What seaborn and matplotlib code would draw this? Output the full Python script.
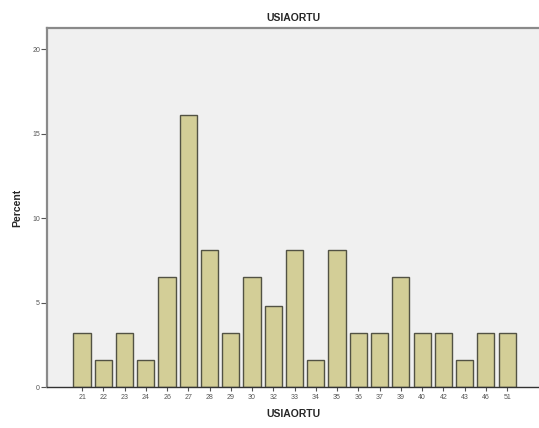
import pandas
import seaborn as sns
import matplotlib
matplotlib.use("Agg")
from matplotlib import pyplot as plt


# USIAORTU categories and their percent of cases (n = 62)
ages = ['21', '22', '23', '24', '26', '27', '28', '29', '30', '32', '33',
        '34', '35', '36', '37', '39', '40', '42', '43', '46', '51']
percent = [3.2, 1.6, 3.2, 1.6, 6.5, 16.1, 8.1, 3.2, 6.5, 4.8, 8.1,
           1.6, 8.1, 3.2, 3.2, 6.5, 3.2, 3.2, 1.6, 3.2, 3.2]
y_ticks = [0, 5, 10, 15, 20]

df = pandas.DataFrame({'USIAORTU': ages, 'Percent': percent})

sns.set_style("white")
plt.rcParams['font.family'] = ['Liberation Sans', 'DejaVu Sans']

f = plt.figure(figsize=(5.39, 4.28), dpi=100)
ax = f.add_axes([47 / 539, 41 / 428, 492 / 539, 359 / 428])
ax.set_facecolor('#f0f0f0')

sns.barplot(data=df, x='USIAORTU', y='Percent', color='#d3ce97',
            saturation=1, width=0.81, edgecolor='#525244', linewidth=1.0, ax=ax)

ax.set_xlim(-1.65, len(ages) + 0.5)
ax.set_ylim(0, 21.25)
ax.set_yticks(y_ticks)

for side in ['left', 'top']:
    ax.spines[side].set_color('#8a8a8a')
    ax.spines[side].set_linewidth(1.6)
ax.spines['bottom'].set_color('#333333')
ax.spines['bottom'].set_linewidth(1.0)
ax.spines['right'].set_visible(False)

ax.tick_params(axis='both', which='major', labelsize=5, colors='#555555',
               length=3, width=0.8, direction='out', bottom=True, left=True)
ax.tick_params(axis='x', pad=2)
ax.tick_params(axis='y', length=4, pad=1)

ax.set_title("USIAORTU", fontsize=7.5, fontweight='bold', pad=5)
ax.set_xlabel("USIAORTU", fontsize=7.5, fontweight='bold', labelpad=6)
ax.set_ylabel("Percent", fontsize=7.5, fontweight='bold', labelpad=7)

f.savefig("out.png", dpi=100)
